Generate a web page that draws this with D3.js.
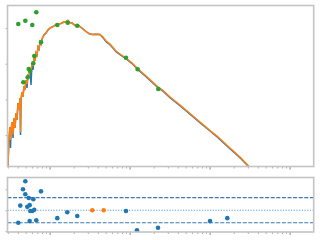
<!DOCTYPE html>
<html>
<head>
<meta charset="utf-8">
<script src="https://cdn.jsdelivr.net/npm/d3@7"></script>
<style>
html, body { margin: 0; padding: 0; background: #fff; }
svg { display: block; }
</style>
</head>
<body>
<svg width="320" height="240"></svg>
<script>
//data: wavelength (micron) and two model spectra
const wave = [0.301, 0.306, 0.310, 0.319, 0.324, 0.328, 0.338, 0.348, 0.358, 0.369,
  0.379, 0.390, 0.402, 0.414, 0.426, 0.432, 0.438, 0.451, 0.464, 0.477,
  0.491, 0.506, 0.521, 0.536, 0.551, 0.568, 0.584, 0.601, 0.619, 0.637,
  0.656, 0.675, 0.694, 0.715, 0.736, 0.757, 0.779, 0.801, 0.825, 0.849,
  0.899, 0.952, 1.01, 1.10, 1.23, 1.38, 1.51, 1.60, 1.69, 1.79,
  1.90, 2.07, 2.26, 2.39, 2.61, 2.84, 3.10, 3.38, 3.79, 4.25,
  4.64, 5.06, 5.67, 6.18, 6.74, 7.56, 8.99, 10.7, 12.7, 15.5,
  19.0, 22.6, 26.1, 31.9, 42.5, 56.7, 75.6, 101, 123, 179,
  239, 313, 338];
const fluxModel = [0.0136, 0.0383, 0.0830, 0.169, 0.0435, 0.122, 0.233, 0.0830, 0.301, 0.158,
  0.416, 0.265, 0.793, 0.505, 1.09, 0.101, 0.962, 1.61, 1.17, 2.37,
  1.83, 3.49, 2.09, 5.15, 4.24, 7.58, 2.53, 10.5, 6.66, 14.4,
  11.9, 19.9, 17.5, 29.4, 25.8, 40.5, 35.6, 49.2, 56.0, 63.7,
  72.4, 87.9, 100, 110, 129, 134, 147, 152, 162, 143,
  138, 118, 121, 110, 93.8, 79.8, 70.1, 65.8, 66.6, 65.8,
  53.8, 41.5, 34.2, 27.3, 21.8, 18.0, 13.8, 10.1, 6.82, 4.64,
  3.04, 2.14, 1.71, 1.12, 0.669, 0.387, 0.224, 0.130, 0.0906, 0.0418,
  0.0234, 0.0125, 0.0108];
const fluxFit = [0.0136, 0.0383, 0.0830, 0.169, 0.0729, 0.122, 0.233, 0.101, 0.301, 0.158,
  0.416, 0.265, 0.793, 0.505, 1.09, 0.122, 0.962, 1.61, 1.17, 2.37,
  1.83, 3.49, 2.70, 5.15, 4.24, 7.58, 5.86, 10.5, 8.62, 14.4,
  11.9, 19.9, 17.5, 29.4, 25.8, 40.5, 35.6, 49.2, 56.0, 63.7,
  72.4, 87.9, 100, 110, 129, 134, 147, 152, 162, 143,
  138, 118, 121, 110, 93.8, 79.8, 70.1, 65.8, 66.6, 65.8,
  56.0, 43.2, 35.6, 28.4, 22.7, 18.7, 14.4, 10.5, 7.10, 4.83,
  3.17, 2.23, 1.78, 1.17, 0.697, 0.403, 0.233, 0.135, 0.0944, 0.0435,
  0.0244, 0.0130, 0.0112];

//observed photometry
const obsWave = [0.405, 0.496, 0.606, 0.680, 0.468, 0.531, 0.547, 0.568, 0.624, 0.642,
  0.779, 1.245, 1.679, 2.213, 8.99, 12.59, 22.78];
const obsFlux = [129, 160, 121, 275, 3.01, 4.16, 7.10, 6.25, 10.3, 16.4,
  39.8, 121, 141, 116, 14.7, 6.97, 1.96];

//residuals (orange = flagged)
const resWave = [0.405, 0.429, 0.464, 0.496, 0.496, 0.525, 0.547, 0.562, 0.562, 0.572,
  0.606, 0.624, 0.642, 0.680, 0.779, 1.245, 1.66, 2.213, 3.41, 4.73,
  8.99, 12.34, 22.59, 100.9, 166];
const resVal = [-0.30, 0.11, 0.50, 0.69, 0.38, 0.08, 0.29, 0.12, -0.26, -0.02,
  -0.02, 0.26, 0.01, -0.24, 0.45, -0.19, -0.05, -0.14, 0, 0,
  -0.02, -0.48, -0.42, -0.26, -0.19];
const resFlag = [0, 0, 0, 0, 0, 0, 0, 0, 0, 0,
  0, 0, 0, 0, 0, 0, 0, 0, 1, 1,
  0, 0, 0, 0, 0];

//ticks
const xMajor = [1, 10, 100, 1000];
const yTicks = [0.1, 1, 10, 100];
const resTicks = [-0.5, 0, 0.5];
const resBands = [-0.3, 0.3];

//config
const left = 7.5, right = 313.7;
const top1 = 5.5, bot1 = 166.5;
const top2 = 177.5, bot2 = 232;
const frameColor = '#c4c4c4';
const tickColor = '#b4b4b4';

const svg = d3.select('svg');

const x = d3.scaleLog().domain([0.297, 1995]).range([left, right]);
const y = d3.scaleLog().domain([0.0132, 427]).range([bot1, top1]);
const yr = d3.scaleLinear().domain([-0.52, 0.78]).range([bot2, top2]);

svg.append('clipPath').attr('id', 'clipTop')
  .append('rect').attr('x', left).attr('y', top1).attr('width', right - left).attr('height', bot1 - top1);
svg.append('clipPath').attr('id', 'clipBot')
  .append('rect').attr('x', left).attr('y', top2).attr('width', right - left).attr('height', bot2 - top2);

//ticks
const xMinor = x.ticks().filter(v => !xMajor.includes(v));
const drawAxis = (axis, tr) => {
  const g = svg.append('g').attr('transform', tr).call(axis);
  g.select('.domain').remove();
  g.selectAll('line').attr('stroke', tickColor);
  return g;
};
[bot1, bot2].forEach(b => {
  drawAxis(d3.axisBottom(x).tickValues(xMajor).tickSize(3).tickFormat(''), `translate(0,${b})`)
    .selectAll('line').attr('stroke-width', 1.6);
  drawAxis(d3.axisBottom(x).tickValues(xMinor).tickSize(2).tickFormat(''), `translate(0,${b})`)
    .selectAll('line').attr('stroke-width', 1.1);
});
drawAxis(d3.axisLeft(y).tickValues(yTicks).tickSize(2).tickFormat(''), `translate(${left},0)`)
  .selectAll('line').attr('stroke-width', 1.1);
drawAxis(d3.axisLeft(yr).tickValues(resTicks).tickSize(2).tickFormat(''), `translate(${left},0)`)
  .selectAll('line').attr('stroke-width', 1.1);

//top panel
const topG = svg.append('g').attr('clip-path', 'url(#clipTop)');
const line = d3.line().x(d => x(d[0])).y(d => y(d[1]));

topG.append('path')
  .datum(d3.zip(wave, fluxModel))
  .attr('d', line)
  .attr('fill', 'none')
  .attr('stroke', '#1f77b4')
  .attr('stroke-width', 1.5);

topG.append('path')
  .datum(d3.zip(wave, fluxFit))
  .attr('d', line)
  .attr('fill', 'none')
  .attr('stroke', '#ff7f0e')
  .attr('stroke-width', 1.5);

topG.selectAll('circle')
  .data(d3.zip(obsWave, obsFlux))
  .enter().append('circle')
  .attr('cx', d => x(d[0]))
  .attr('cy', d => y(d[1]))
  .attr('r', 2.3)
  .attr('fill', '#2ca02c');

//bottom panel
const botG = svg.append('g').attr('clip-path', 'url(#clipBot)');

botG.selectAll('line.band')
  .data(resBands)
  .enter().append('line')
  .attr('class', 'band')
  .attr('x1', left).attr('x2', right)
  .attr('y1', d => yr(d)).attr('y2', d => yr(d))
  .attr('stroke', '#3a78b2')
  .attr('stroke-width', 1.1)
  .attr('stroke-dasharray', '4,1.6');

botG.append('line')
  .attr('x1', left).attr('x2', right)
  .attr('y1', yr(0)).attr('y2', yr(0))
  .attr('stroke', '#5b9fd6')
  .attr('stroke-width', 1.1)
  .attr('stroke-dasharray', '1.2,1.5');

botG.selectAll('circle')
  .data(d3.zip(resWave, resVal, resFlag))
  .enter().append('circle')
  .attr('cx', d => x(d[0]))
  .attr('cy', d => yr(d[1]))
  .attr('r', 2.3)
  .attr('fill', d => d[2] ? '#ff7f0e' : '#1f77b4');

//frames
[[top1, bot1], [top2, bot2]].forEach(([t, b]) => {
  svg.append('rect')
    .attr('x', left).attr('y', t)
    .attr('width', right - left).attr('height', b - t)
    .attr('fill', 'none')
    .attr('stroke', frameColor)
    .attr('stroke-width', 1.6);
});
</script>
</body>
</html>
